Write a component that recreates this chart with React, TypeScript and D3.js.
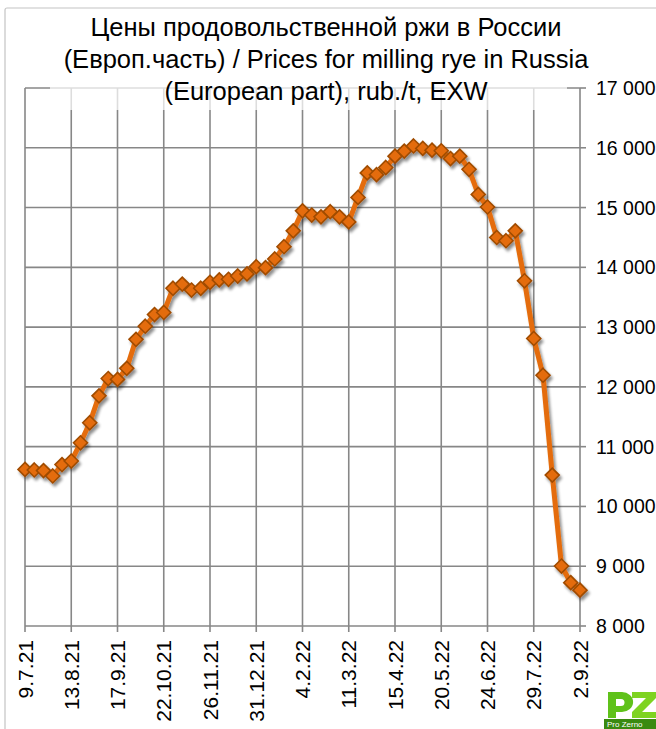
import React from "react";
import * as d3 from "d3";

const dateLabels = ["9.7.21", "13.8.21", "17.9.21", "22.10.21", "26.11.21", "31.12.21", "4.2.22", "11.3.22", "15.4.22", "20.5.22", "24.6.22", "29.7.22", "2.9.22"];
const prices = [
  10620, 10610, 10600, 10510, 10700, 10760, 11065, 11400, 11850, 12140,
  12125, 12310, 12795, 13015, 13210, 13245, 13650, 13720, 13620, 13650,
  13750, 13790, 13800, 13855, 13890, 14010, 13995, 14140, 14345, 14610,
  14945, 14875, 14845, 14930, 14845, 14760, 15170, 15580, 15550, 15670,
  15860, 15945, 16030, 15990, 15960, 15950, 15820, 15860, 15640, 15220,
  15010, 14500, 14445, 14610, 13775, 12810, 12195, 10525, 9003, 8725, 8600,
];
const yTicks = [8000, 9000, 10000, 11000, 12000, 13000, 14000, 15000, 16000, 17000];
const titleLines = [
  "Цены продовольственной ржи в России",
  "(Европ.часть) / Prices for milling rye in Russia",
  "(European part), rub./t, EXW",
];

const W = 656, H = 729;
const L = 25, R = 580, T = 88, B = 626;
const FONT = "'Liberation Sans', Arial, sans-serif";

export default function App() {
  const x = d3.scaleLinear().domain([0, prices.length - 1]).range([L, R]);
  const y = d3.scaleLinear().domain([8000, 17000]).range([B, T]);
  const labelIdx = dateLabels.map((_, i) => i * 5);
  const line = d3.line<number>().x((_, i) => x(i)).y((d) => y(d));
  const fmt = (v: number) => d3.format(",")(v).replace(/,/g, " ");
  const dm = 7;
  const diamond = `M0,${-dm}L${dm},0L0,${dm}L${-dm},0Z`;

  return (
    <svg width={W} height={H} style={{ position: "absolute", left: 0, top: 0, background: "#fff" }}>
      <defs>
        <filter id="sh" x="-50%" y="-50%" width="200%" height="200%">
          <feGaussianBlur in="SourceAlpha" stdDeviation="1.6" />
          <feOffset dx="1.5" dy="2.5" result="o" />
          <feComponentTransfer><feFuncA type="linear" slope="0.45" /></feComponentTransfer>
          <feMerge><feMergeNode /><feMergeNode in="SourceGraphic" /></feMerge>
        </filter>
      </defs>
      <rect x={5} y={8} width={W + 20} height={H + 20} fill="#fff" stroke="#c4c4c4" strokeWidth={1.2} rx={2} />
      {yTicks.map((t) => (
        <line key={"h" + t} x1={L} x2={R} y1={y(t)} y2={y(t)} stroke="#878787" strokeWidth={1.6} />
      ))}
      {labelIdx.map((i) => (
        <line key={"v" + i} x1={x(i)} x2={x(i)} y1={T} y2={B} stroke="#878787" strokeWidth={1.6} />
      ))}
      {yTicks.map((t) => (
        <line key={"rt" + t} x1={R} x2={R + 6} y1={y(t)} y2={y(t)} stroke="#878787" strokeWidth={1.6} />
      ))}
      {labelIdx.map((i) => (
        <line key={"bt" + i} x1={x(i)} x2={x(i)} y1={B} y2={B + 6} stroke="#878787" strokeWidth={1.6} />
      ))}
      <rect x={50} y={10} width={517} height={100} fill="#fff" opacity={0.72} />
      {titleLines.map((s, i) => (
        <text key={s} x={326} y={36 + i * 32} textAnchor="middle" fontFamily={FONT} fontSize={25.5} fill="#000">{s}</text>
      ))}
      <g filter="url(#sh)">
        <path d={line(prices) || ""} fill="none" stroke="#E46C0A" strokeWidth={5} strokeLinejoin="round" />
        {prices.map((v, i) => (
          <path key={i} d={diamond} transform={`translate(${x(i)},${y(v)})`} fill="#E46C0A" stroke="#A04C06" strokeWidth={1.6} />
        ))}
      </g>
      {yTicks.map((t) => (
        <text key={"yl" + t} x={596} y={y(t) + 7} fontFamily={FONT} fontSize={19.5} fill="#000">{fmt(t)}</text>
      ))}
      {labelIdx.map((i, k) => (
        <text key={"xl" + i} transform={`translate(${x(i) + 7.5},640) rotate(-90)`} textAnchor="end" fontFamily={FONT} fontSize={21} fill="#000">{dateLabels[k]}</text>
      ))}
      <g transform="translate(604,690)">
        <path d="M4,2 h14 a10,9 0 0 1 0,20 h-6 v6 h-8 Z M12,9 v7 h5 a3.5,3.5 0 0 0 0,-7 Z" fill="#5fc21a" />
        <path d="M28,2 h24 v6 l-14,14 h14 v6 h-24 v-6 l14,-14 h-14 Z" fill="#7ed321" />
        <rect x={0} y={29} width={56} height={10} fill="#3a8a10" />
        <text x={3} y={37} fontFamily={FONT} fontSize={8} fill="#fff">Pro Zerno</text>
      </g>
    </svg>
  );
}
